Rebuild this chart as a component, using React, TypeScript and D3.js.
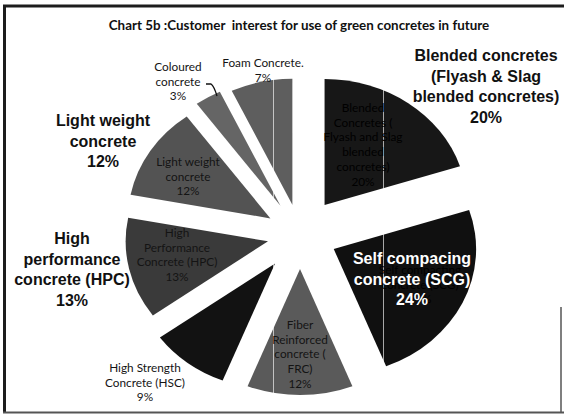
import React from "react";
import * as d3 from "d3";

const title = "Chart 5b :Customer  interest for use of green concretes in future";
const categories = [
  "Blended Concretes",
  "Self compacting concrete (SCG)",
  "Fiber Reinforced concrete (FRC)",
  "High Strength Concrete (HSC)",
  "High Performance Concrete (HPC)",
  "Light weight concrete",
  "Coloured concrete",
  "Foam Concrete.",
];
const shares = [20, 24, 12, 9, 13, 12, 3, 7];
const smallLabels = [
  ["Blended", "Concretes (", "Flyash and Slag", "blended", "concretes)", "20%"],
  ["Self compacting", "concrete (SCG)", "24%"],
  ["Fiber", "Reinforced", "concrete (", "FRC)", "12%"],
  ["High Strength", "Concrete (HSC)", "9%"],
  ["High", "Performance", "Concrete (HPC)", "13%"],
  ["Light weight", "concrete", "12%"],
  ["Coloured", "concrete", "3%"],
  ["Foam Concrete.", "7%"],
];
const bigLabels = [
  ["Blended concretes", "(Flyash & Slag", "blended concretes)", "20%"],
  ["Self compacing", "concrete (SCG)", "24%"],
  ["High", "performance", "concrete (HPC)", "13%"],
  ["Light weight", "concrete", "12%"],
];

// style / layout
const fills = ["#171717", "#101010", "#5a5a5a", "#121212", "#3a3a3a", "#535353", "#656565", "#5e5e5e"];
const explode = [37, 33, 34, 36, 29, 31, 34, 31];
const smallPos: [number, number][] = [
  [363, 108], [420, 270], [300, 325], [145, 368], [177, 233], [188, 162], [178, 67], [263, 63],
];
const bigPos: [number, number, string][] = [
  [486, 55, "#111"], [412, 258, "#fff"], [72, 238, "#111"], [103, 120, "#111"],
];

export default function App() {
  const W = 564, H = 414;
  const cx = 300, cy = 235, r = 126, sx = 1.13;
  const pie = d3.pie<number>().sort(null).value((d) => d).startAngle(0).endAngle(2 * Math.PI);
  const arcs = pie(shares);
  const arc = d3.arc<d3.PieArcDatum<number>>().innerRadius(0).outerRadius(r);
  const smallFont = "Lato, 'Open Sans', sans-serif";
  const bigFont = "'Liberation Sans', Arial, sans-serif";

  return (
    <svg width={W} height={H} style={{ position: "absolute", left: 0, top: 0, background: "#fff" }}>
      <rect x={0} y={0} width={W} height={H} fill="#fff" />
      {/* frame */}
      <line x1={3} y1={6} x2={W} y2={6} stroke="#1c1c1c" strokeWidth={3} />
      <line x1={4.5} y1={5} x2={4.5} y2={413} stroke="#1c1c1c" strokeWidth={3} />
      <line x1={3} y1={412.5} x2={W} y2={412.5} stroke="#555" strokeWidth={2} />
      <line x1={561} y1={307} x2={561} y2={413} stroke="#555" strokeWidth={1.5} />

      <text x={299} y={30} textAnchor="middle" fontFamily={smallFont} fontWeight="bold" fontSize={13.4} fill="#111" style={{ whiteSpace: "pre" }}>
        {title}
      </text>

      <g transform={`translate(${cx},${cy}) scale(${sx},1)`}>
        {arcs.map((a, i) => {
          const mid = (a.startAngle + a.endAngle) / 2;
          const dx = Math.sin(mid) * explode[i];
          const dy = -Math.cos(mid) * explode[i];
          return (
            <path key={categories[i]} d={arc(a) || ""} transform={`translate(${dx},${dy})`} fill={fills[i]} />
          );
        })}
      </g>

      {/* scan artifact lines */}
      <line x1={273.5} y1={60} x2={273.5} y2={400} stroke="#fff" strokeWidth={0.8} opacity={0.8} />
      <line x1={383.5} y1={60} x2={383.5} y2={400} stroke="#fff" strokeWidth={0.8} opacity={0.8} />

      {smallLabels.map((lines, i) => (
        <text key={"s" + i} textAnchor="middle" fontFamily={smallFont} fontSize={11.8} fill={i < 2 ? "#000" : "#141414"}>
          {lines.map((l, j) => (
            <tspan key={j} x={smallPos[i][0]} y={smallPos[i][1] + 4 + j * 14.7}>
              {l}
            </tspan>
          ))}
        </text>
      ))}

      <path d="M206,84 L211,84 Q214,86 217,96" fill="none" stroke="#111" strokeWidth={1.3} />

      {bigLabels.map((lines, i) => (
        <text key={"b" + i} textAnchor="middle" fontFamily={bigFont} fontWeight="bold" fontSize={16} fill={bigPos[i][2]}>
          {lines.map((l, j) => (
            <tspan key={j} x={bigPos[i][0]} y={bigPos[i][1] + 6 + j * 20.7}>
              {l}
            </tspan>
          ))}
        </text>
      ))}
    </svg>
  );
}
